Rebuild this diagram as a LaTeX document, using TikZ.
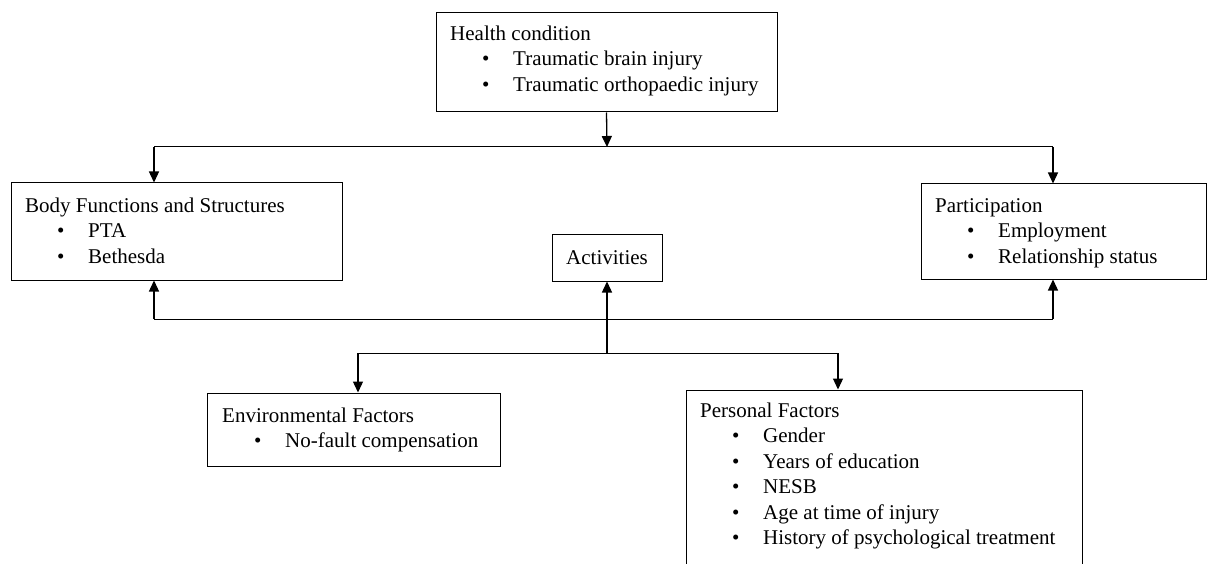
\documentclass[tikz,border=0pt]{standalone}
\usepackage{fontspec}
\setmainfont{Liberation Serif}
\usetikzlibrary{arrows.meta}
\newcommand{\bitem}[1]{\makebox[63pt][l]{\hspace{32pt}\textbullet}#1}
\tikzset{
  box/.style={draw, line width=1pt, inner sep=0pt, rectangle},
  txt/.style={anchor=north west, inner sep=0pt, align=left, font=\fontsize{21}{25.5}\selectfont},
  tip/.style={-{Triangle[length=11pt,width=10pt]}},
  arr/.style={line width=1.3pt, tip},
  ln/.style={line width=1pt}
}
\begin{document}
\begin{tikzpicture}[x=1pt,y=-1pt]
\useasboundingbox (0,0) rectangle (1210,564);
\fill[white] (0,0) rectangle (1210,564);
\begin{scope}
\clip (0,0) rectangle (1210,564);
% boxes
\node[box, minimum width=341pt, minimum height=99pt] (health) at (606.5,62.5) {};
\node[box, minimum width=331pt, minimum height=97pt] (body) at (176.5,231.5) {};
\node[box, minimum width=285pt, minimum height=95pt] (part) at (1063.5,231.5) {};
\node[box, minimum width=110pt, minimum height=46pt, font=\fontsize{21}{25.5}\selectfont] (act) at (607,258) {Activities};
\node[box, minimum width=293pt, minimum height=73pt] (env) at (353.5,429.5) {};
\node[box, minimum width=396pt, minimum height=210pt] (pers) at (884,495) {};
% texts
\node[txt] (healtht) at (450,22.15) {\strut Health condition\\ \strut\bitem{Traumatic brain injury}\\ \strut\bitem{Traumatic orthopaedic injury}};
\node[txt] (bodyt) at (25,194.15) {\strut Body Functions and Structures\\ \strut\bitem{PTA}\\ \strut\bitem{Bethesda}};
\node[txt] (partt) at (935,194.15) {\strut Participation\\ \strut\bitem{Employment}\\ \strut\bitem{Relationship status}};
\node[txt] (envt) at (222,404.15) {\strut Environmental Factors\\ \strut\bitem{No-fault compensation}};
\node[txt] (perst) at (700,399.15) {\strut Personal Factors\\ \strut\bitem{Gender}\\ \strut\bitem{Years of education}\\ \strut\bitem{NESB}\\ \strut\bitem{Age at time of injury}\\ \strut\bitem{History of psychological treatment}};
% connectors
\coordinate (hj) at (607,147);
\coordinate (hl) at (154,147);
\coordinate (hr) at (1053,147);
\draw[arr] (health.south) -- (hj);
\draw[ln] (hl) -- (hr);
\draw[arr] (hl) -- (hl |- body.north);
\draw[arr] (hr) -- (hr |- part.north);
\coordinate (bl) at (154,319);
\coordinate (br) at (1053,319);
\draw[arr] (bl) -- (bl |- body.south);
\draw[arr] (br) -- (br |- part.south);
\draw[ln] (bl) -- (br);
\coordinate (aj) at (607,353);
\coordinate (al) at (358,353);
\coordinate (ar) at (838,353);
\draw[arr] (aj) -- (act.south);
\draw[ln] (al) -- (ar);
\draw[arr] (al) -- (al |- env.north);
\draw[arr] (ar) -- (ar |- pers.north);
\end{scope}
\end{tikzpicture}
\end{document}
